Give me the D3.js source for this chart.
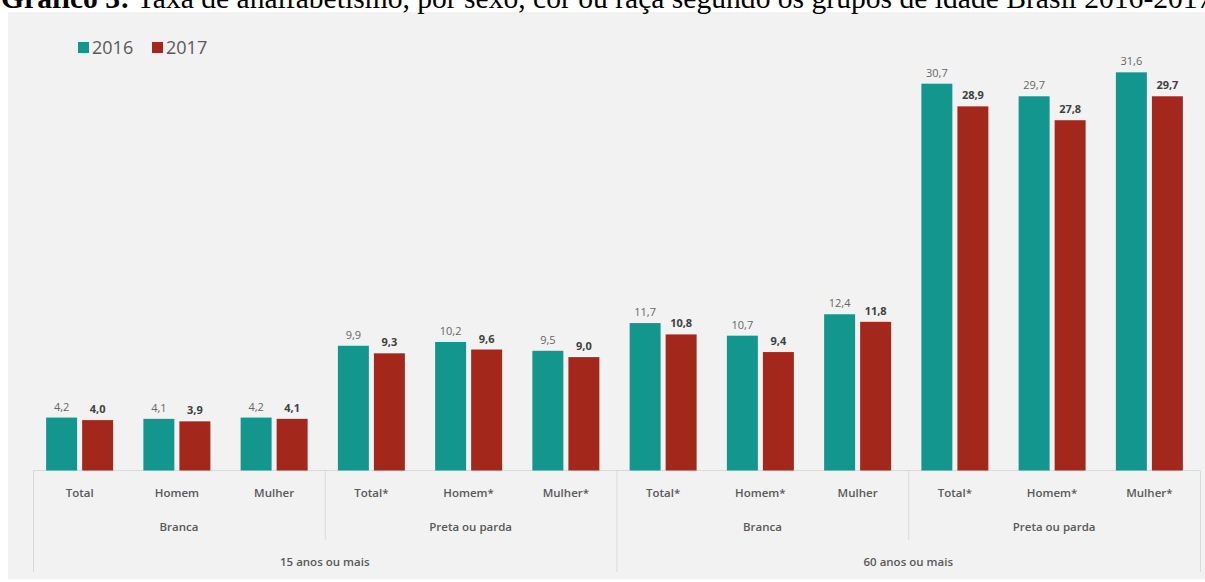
<!DOCTYPE html>
<html>
<head>
<meta charset="utf-8">
<script src="https://cdn.jsdelivr.net/npm/d3@7"></script>
<style>
  html, body { margin: 0; padding: 0; background: #ffffff; }
  svg { display: block; }
</style>
</head>
<body>
<svg id="chart" width="1205" height="582"></svg>
<script>
// ---- data ----
const titleBold = "Gráfico 3:";
const titleRest = " Taxa de analfabetismo, por sexo, cor ou raça segundo os grupos de idade Brasil 2016-2017";
const years = ["2016", "2017"];
const categories = ["Total", "Homem", "Mulher", "Total*", "Homem*", "Mulher*",
                    "Total*", "Homem*", "Mulher", "Total*", "Homem*", "Mulher*"];
const values2016 = [4.2, 4.1, 4.2, 9.9, 10.2, 9.5, 11.7, 10.7, 12.4, 30.7, 29.7, 31.6];
const values2017 = [4.0, 3.9, 4.1, 9.3, 9.6, 9.0, 10.8, 9.4, 11.8, 28.9, 27.8, 29.7];
const subgroups = [
  { label: "Branca", start: 0, end: 3 },
  { label: "Preta ou parda", start: 3, end: 6 },
  { label: "Branca", start: 6, end: 9 },
  { label: "Preta ou parda", start: 9, end: 12 }
];
const ageGroups = [
  { label: "15 anos ou mais", start: 0, end: 6 },
  { label: "60 anos ou mais", start: 6, end: 12 }
];

const colors = { "2016": "#12968d", "2017": "#a3281b" };

const svg = d3.select("#chart");
const W = 1205, H = 582;

// panel
svg.append("rect").attr("x", 8).attr("y", 12).attr("width", W - 8).attr("height", H - 15)
  .attr("fill", "#f2f2f2");

// title (partly cut at top, as in the reference)
const title = svg.append("text").attr("x", 1).attr("y", 8)
  .attr("font-family", "'Liberation Serif', 'Times New Roman', serif")
  .attr("font-size", 22).attr("fill", "#000");
title.append("tspan").attr("font-weight", "bold").text(titleBold);
title.append("tspan").text(titleRest);
const tl = title.node().getComputedTextLength();
title.attr("font-size", 22 * 1212 / tl);

// scales
const idx = d3.range(categories.length);
const x0 = d3.scaleBand().domain(idx).range([33, 1200]).paddingInner(0).paddingOuter(0);
const x1 = d3.scaleBand().domain(years).range([0, x0.bandwidth()]).paddingInner(0.14).paddingOuter(0.42);
const y = d3.scaleLinear().domain([0, 35]).range([470.5, 470.5 - 35 * 12.6]);

const locale = d3.formatLocale({ decimal: ",", thousands: ".", grouping: [3], currency: ["R$", ""] });
const fmt = locale.format(".1f");

const data = idx.map(i => ({ i, cat: categories[i], vals: [
  { year: "2016", v: values2016[i] }, { year: "2017", v: values2017[i] }] }));

// axis line
svg.append("line").attr("x1", x0.range()[0]).attr("x2", x0.range()[1])
  .attr("y1", y(0)).attr("y2", y(0)).attr("stroke", "#d9d9d9").attr("stroke-width", 1);

// separators
const sepMinor = [3, 9];
const sepMajor = [0, 6, 12];
const xEdge = k => k >= categories.length ? x0.range()[1] : x0(k);
sepMinor.forEach(k => {
  svg.append("line").attr("x1", xEdge(k) + 0.5).attr("x2", xEdge(k) + 0.5)
    .attr("y1", y(0)).attr("y2", 540).attr("stroke", "#d9d9d9");
});
sepMajor.forEach(k => {
  svg.append("line").attr("x1", xEdge(k) + 0.5).attr("x2", xEdge(k) + 0.5)
    .attr("y1", y(0)).attr("y2", 572).attr("stroke", "#d9d9d9");
});

// bars
const g = svg.append("g").selectAll("g").data(data).join("g")
  .attr("transform", d => `translate(${x0(d.i) - 2},0)`);
g.selectAll("rect").data(d => d.vals).join("rect")
  .attr("x", d => x1(d.year)).attr("width", x1.bandwidth())
  .attr("y", d => y(d.v)).attr("height", d => y(0) - y(d.v))
  .attr("fill", d => colors[d.year]);
g.selectAll("text").data(d => d.vals).join("text")
  .attr("x", d => x1(d.year) + x1.bandwidth() / 2)
  .attr("y", d => y(d.v) - 7)
  .attr("text-anchor", "middle")
  .attr("font-family", "'Open Sans', sans-serif")
  .attr("font-size", 11)
  .attr("font-weight", d => d.year === "2017" ? "bold" : "normal")
  .attr("fill", d => d.year === "2017" ? "#404040" : "#666666")
  .text(d => fmt(d.v));

// category labels
const labelFont = "'Open Sans', sans-serif";
svg.append("g").selectAll("text").data(data).join("text")
  .attr("x", d => x0(d.i) + x0.bandwidth() / 2 - 2)
  .attr("y", 497)
  .attr("text-anchor", "middle")
  .attr("font-family", labelFont).attr("font-size", 11.5).attr("font-weight", 600)
  .attr("fill", "#595959")
  .text(d => d.cat);

// subgroup labels
svg.append("g").selectAll("text").data(subgroups).join("text")
  .attr("x", d => (xEdge(d.start) + xEdge(d.end)) / 2)
  .attr("y", 531)
  .attr("text-anchor", "middle")
  .attr("font-family", labelFont).attr("font-size", 11.5).attr("font-weight", 600)
  .attr("fill", "#595959")
  .text(d => d.label);

// age group labels
svg.append("g").selectAll("text").data(ageGroups).join("text")
  .attr("x", d => (xEdge(d.start) + xEdge(d.end)) / 2)
  .attr("y", 566)
  .attr("text-anchor", "middle")
  .attr("font-family", labelFont).attr("font-size", 11.5).attr("font-weight", 600)
  .attr("fill", "#595959")
  .text(d => d.label);

// legend
const legend = svg.append("g").attr("transform", "translate(78,42)");
const lx = [0, 74];
years.forEach((yr, k) => {
  legend.append("rect").attr("x", lx[k]).attr("y", 0).attr("width", 11).attr("height", 11)
    .attr("fill", colors[yr]);
  legend.append("text").attr("x", lx[k] + 14).attr("y", 12)
    .attr("font-family", "'Open Sans', sans-serif").attr("font-size", 18)
    .attr("fill", "#595959").text(yr);
});
</script>
</body>
</html>
